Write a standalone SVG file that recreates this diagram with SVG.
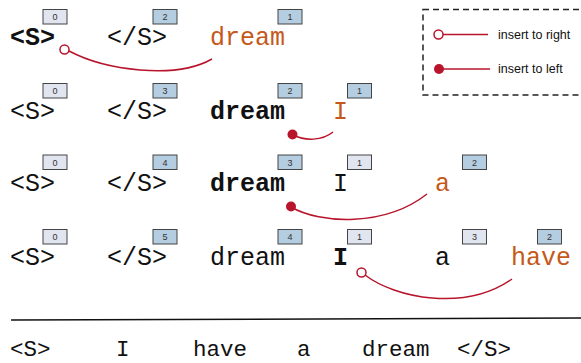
<svg xmlns="http://www.w3.org/2000/svg" width="581" height="363" viewBox="0 0 581 363">
<style>
.t{font-family:"Liberation Mono","Courier New",monospace;font-size:25px;fill:#111}
.b{font-weight:bold}
.o{fill:#c4591a}
.bt{font-family:"Liberation Mono","Courier New",monospace;font-size:22.5px;fill:#111}
.bx{stroke:#444;stroke-width:1}
.lt{fill:#e1e5ef}
.bl{fill:#b5cde0}
.n{font-family:"Liberation Sans",Arial,sans-serif;font-size:9px;fill:#333;text-anchor:middle}
.c{fill:none;stroke:#b8142b;stroke-width:1.5}
.oc{fill:#fff;stroke:#b8142b;stroke-width:1.5}
.fc{fill:#b8142b}
.lg{font-family:"Liberation Sans",Arial,sans-serif;font-size:12.5px;fill:#111}
</style>
<g id="legend">
<rect x="423" y="9.5" width="175" height="85.5" fill="none" stroke="#222" stroke-width="1.5" stroke-dasharray="6 4"/>
<line x1="443" y1="34.5" x2="488" y2="34.5" class="c"/>
<circle cx="438.5" cy="34.5" r="4.5" class="oc"/>
<text x="498" y="38.5" class="lg">insert to right</text>
<line x1="443" y1="69" x2="490" y2="69" class="c"/>
<circle cx="439" cy="69" r="5" class="fc"/>
<text x="498" y="73" class="lg">insert to left</text>
</g>
<g id="row1">
<text x="10" y="45" class="t b">&lt;S&gt;</text>
<text x="107" y="45" class="t">&lt;/S&gt;</text>
<text x="210" y="45" class="t o">dream</text>
<rect x="43" y="9.5" width="24" height="14.5" class="bx lt"/><text x="55" y="20" class="n">0</text>
<rect x="153" y="9.5" width="24" height="14.5" class="bx bl"/><text x="165" y="20" class="n">2</text>
<rect x="278" y="9.5" width="24" height="14.5" class="bx bl"/><text x="290" y="20" class="n">1</text>
</g>
<g id="row2">
<text x="10" y="118.5" class="t">&lt;S&gt;</text>
<text x="107" y="118.5" class="t">&lt;/S&gt;</text>
<text x="210" y="118.5" class="t b">dream</text>
<text x="333" y="118.5" class="t o">I</text>
<rect x="43" y="83.5" width="24" height="14.5" class="bx lt"/><text x="55" y="94" class="n">0</text>
<rect x="153" y="83.5" width="24" height="14.5" class="bx bl"/><text x="165" y="94" class="n">3</text>
<rect x="278" y="83.5" width="24" height="14.5" class="bx bl"/><text x="290" y="94" class="n">2</text>
<rect x="347.5" y="83.5" width="24" height="14.5" class="bx bl"/><text x="359.5" y="94" class="n">1</text>
</g>
<g id="row3">
<text x="10" y="190.5" class="t">&lt;S&gt;</text>
<text x="107" y="190.5" class="t">&lt;/S&gt;</text>
<text x="210" y="190.5" class="t b">dream</text>
<text x="333" y="190.5" class="t">I</text>
<text x="435" y="190.5" class="t o">a</text>
<rect x="43" y="155" width="24" height="14.5" class="bx lt"/><text x="55" y="165.5" class="n">0</text>
<rect x="153" y="155" width="24" height="14.5" class="bx bl"/><text x="165" y="165.5" class="n">4</text>
<rect x="278" y="155" width="24" height="14.5" class="bx bl"/><text x="290" y="165.5" class="n">3</text>
<rect x="347.5" y="155" width="24" height="14.5" class="bx lt"/><text x="359.5" y="165.5" class="n">1</text>
<rect x="462.5" y="155" width="24" height="14.5" class="bx bl"/><text x="474.5" y="165.5" class="n">2</text>
</g>
<g id="row4">
<text x="10" y="264.5" class="t">&lt;S&gt;</text>
<text x="107" y="264.5" class="t">&lt;/S&gt;</text>
<text x="210" y="264.5" class="t">dream</text>
<text x="333" y="264.5" class="t b">I</text>
<text x="435" y="264.5" class="t">a</text>
<text x="511" y="264.5" class="t o">have</text>
<rect x="43" y="229.5" width="24" height="14.5" class="bx lt"/><text x="55" y="240" class="n">0</text>
<rect x="153" y="229.5" width="24" height="14.5" class="bx bl"/><text x="165" y="240" class="n">5</text>
<rect x="278" y="229.5" width="24" height="14.5" class="bx bl"/><text x="290" y="240" class="n">4</text>
<rect x="347.5" y="229.5" width="24" height="14.5" class="bx lt"/><text x="359.5" y="240" class="n">1</text>
<rect x="462.5" y="229.5" width="24" height="14.5" class="bx lt"/><text x="474.5" y="240" class="n">3</text>
<rect x="537.5" y="229.5" width="24" height="14.5" class="bx bl"/><text x="549.5" y="240" class="n">2</text>
</g>
<g id="connectors">
<path d="M69,51 C105,70 175,80 212,59" class="c"/>
<circle cx="64.5" cy="49.5" r="4.5" class="oc"/>
<path d="M293,135 C305,141 322,141 333,132" class="c"/>
<circle cx="292.5" cy="134.5" r="5" class="fc"/>
<path d="M291,207 C320,224 385,227 427,194" class="c"/>
<circle cx="291" cy="206.5" r="5" class="fc"/>
<path d="M365,275 C395,298 465,312 512,279" class="c"/>
<circle cx="361.5" cy="272.5" r="4.5" class="oc"/>
<line x1="11" y1="320" x2="581" y2="318" stroke="#111" stroke-width="1.5"/>
</g>
<g id="result">
<text x="10" y="356" class="bt">&lt;S&gt;</text>
<text x="116" y="356" class="bt">I</text>
<text x="193" y="356" class="bt">have</text>
<text x="297" y="356" class="bt">a</text>
<text x="362" y="356" class="bt">dream</text>
<text x="457" y="356" class="bt">&lt;/S&gt;</text>
</g>
</svg>
